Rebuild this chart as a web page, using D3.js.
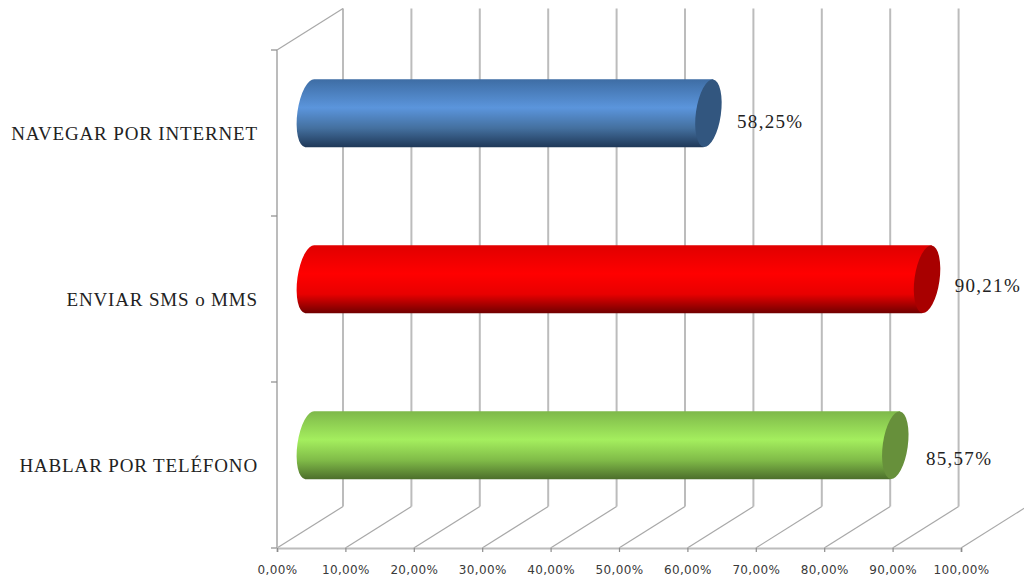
<!DOCTYPE html>
<html><head><meta charset="utf-8">
<script src="https://cdn.jsdelivr.net/npm/d3@7"></script>
<style>html,body{margin:0;padding:0;background:#fff}svg{display:block}</style></head>
<body><svg id="c" width="1024" height="581"></svg>
<script>
const categories = ["NAVEGAR POR INTERNET","ENVIAR SMS o MMS","HABLAR POR TELÉFONO"];
const values = [58.25,90.21,85.57];
const valueLabels = ["58,25%","90,21%","85,57%"];
const ticks = [0,10,20,30,40,50,60,70,80,90,100];
const tickLabels = ["0,00%","10,00%","20,00%","30,00%","40,00%","50,00%","60,00%","70,00%","80,00%","90,00%","100,00%"];
const palettes = [
  {id:"b",top:"#3e6da4",mid:"#5b95dc",low:"#44709f",bot:"#1f3858",cap:"#32567f"},
  {id:"r",top:"#e00000",mid:"#ff0000",low:"#e80000",bot:"#700000",cap:"#a80000"},
  {id:"g",top:"#7eb84a",mid:"#a4ee5e",low:"#80bb48",bot:"#4c6e2b",cap:"#67903b"}
];

const svg = d3.select("#c");
const plotLeft=277,plotRight=961,plotFront=548,plotTop=50,dx=66,dy=41.5;
const x = d3.scaleLinear().domain([0,100]).range([plotLeft,plotRight]);
const y = d3.scaleBand().domain(categories).range([plotTop,plotFront]);
const barH = 68, rx = 12.5, midDx = 33, tilt = 8;
const lean = barH/2*Math.sin(tilt*Math.PI/180);
const labelNudgeX = [0,-1,2], labelNudgeY = [0,-2,5];

const defs = svg.append("defs");
palettes.forEach(p=>{
  const g = defs.append("linearGradient").attr("id",p.id).attr("x1",0).attr("x2",0).attr("y1",0).attr("y2",1);
  [[0,p.top],[.42,p.mid],[.72,p.low],[1,p.bot]].forEach(s=>g.append("stop").attr("offset",s[0]).attr("stop-color",s[1]));
});

// walls / gridlines
const gl = svg.append("g").attr("fill","none");
gl.selectAll("line.v").data(ticks).join("line").attr("class","v")
  .attr("x1",d=>x(d)+dx).attr("x2",d=>x(d)+dx).attr("y1",plotTop-dy).attr("y2",plotFront-dy)
  .attr("stroke","#bcbcbc").attr("stroke-width",2);
gl.selectAll("line.d").data(ticks).join("line").attr("class","d")
  .attr("x1",d=>x(d)).attr("x2",d=>x(d)+dx).attr("y1",plotFront).attr("y2",plotFront-dy)
  .attr("stroke","#a8a8a8").attr("stroke-width",1.2);
gl.append("line").attr("x1",plotLeft).attr("x2",plotLeft+dx).attr("y1",plotTop).attr("y2",plotTop-dy).attr("stroke","#a8a8a8").attr("stroke-width",1.2);
gl.append("line").attr("x1",plotLeft).attr("x2",plotLeft).attr("y1",plotTop).attr("y2",plotFront).attr("stroke","#bcbcbc").attr("stroke-width",2);

// category ticks
const yEdges = [plotTop,y(categories[1]),y(categories[2]),plotFront];
gl.selectAll("line.t").data(yEdges).join("line").attr("class","t")
  .attr("x1",plotLeft-6).attr("x2",plotLeft).attr("y1",d=>d).attr("y2",d=>d)
  .attr("stroke","#8c8c8c").attr("stroke-width",1.2);

// value axis
const axis = d3.axisBottom(x).tickValues(ticks).tickSize(4).tickPadding(13)
  .tickFormat((d,i)=>tickLabels[i]);
const ax = svg.append("g").attr("transform",`translate(0,${plotFront})`).call(axis);
ax.select(".domain").attr("stroke","#bcbcbc").attr("stroke-width",2);
ax.selectAll(".tick line").attr("stroke","#8c8c8c").attr("stroke-width",1.2);
ax.selectAll("text").attr("font-family","'DejaVu Sans'").attr("font-size",12).attr("letter-spacing",.35).attr("fill","#3a3a3a");

// bars
const cy = d => y(d)+y.bandwidth()/2 - dy/2 + 1;
const bars = svg.append("g").selectAll("g").data(categories).join("g");
bars.append("path")
  .attr("d",(d,i)=>{
    const x0=x(0)+midDx, x1=x(values[i])+midDx, t=cy(d)-barH/2, b=cy(d)+barH/2;
    return `M${x1+lean},${t}L${x0+lean},${t}A${rx},${barH/2} ${tilt} 0 0 ${x0-lean},${b}L${x1-lean},${b}Z`;
  })
  .attr("fill",(d,i)=>`url(#${palettes[i].id})`);
bars.append("ellipse")
  .attr("cx",(d,i)=>x(values[i])+midDx).attr("cy",cy).attr("rx",rx).attr("ry",barH/2)
  .attr("transform",(d,i)=>`rotate(${tilt} ${x(values[i])+midDx} ${cy(d)})`)
  .attr("fill",(d,i)=>palettes[i].cap);

// value labels
bars.append("text").text((d,i)=>valueLabels[i])
  .attr("x",(d,i)=>x(values[i])+midDx+95+labelNudgeX[i]).attr("y",(d,i)=>cy(d)+15+labelNudgeY[i])
  .attr("text-anchor","end")
  .attr("font-family","'Liberation Serif'").attr("font-size",19).attr("letter-spacing",1.3).attr("fill","#222");

// category labels
svg.append("g").selectAll("text").data(categories).join("text")
  .text(d=>d).attr("x",258).attr("y",d=>cy(d)+27)
  .attr("text-anchor","end").attr("font-family","'Liberation Serif'").attr("font-size",19).attr("letter-spacing",.85)
  .attr("fill","#222");
</script></body></html>
